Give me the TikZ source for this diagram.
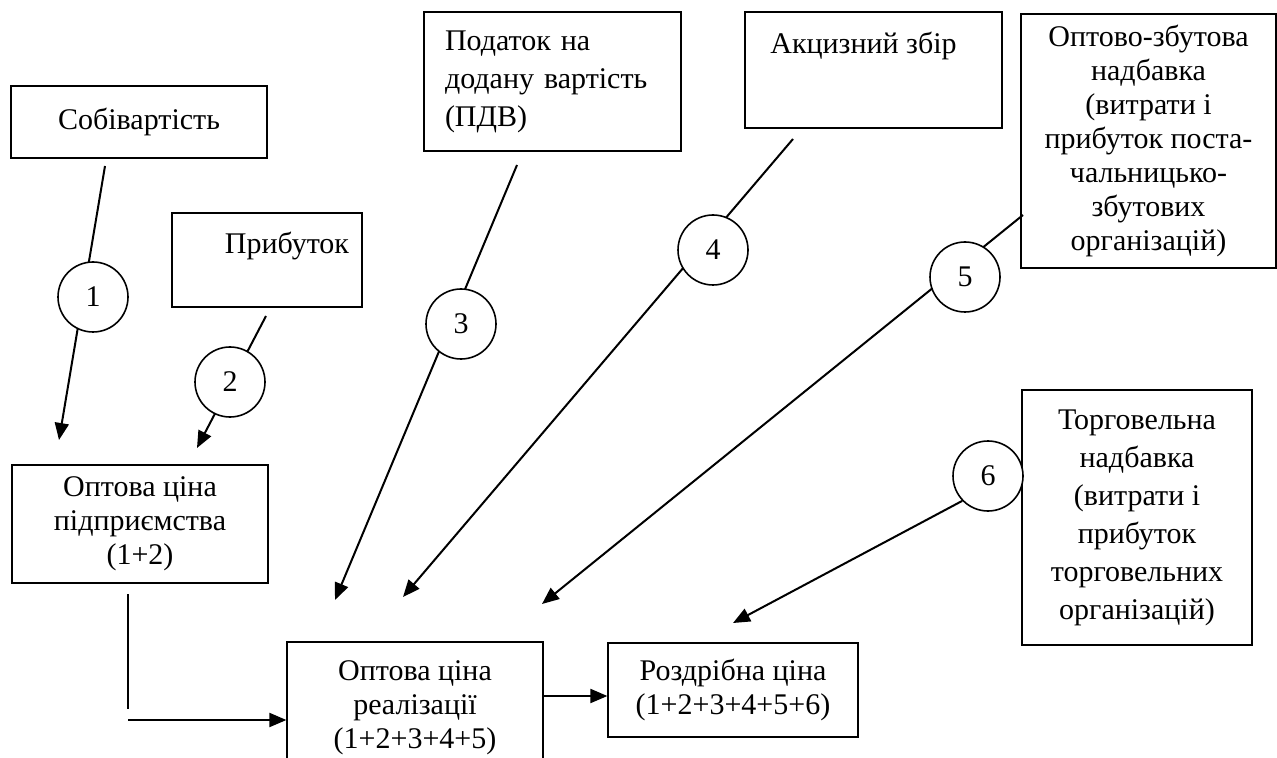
\documentclass[tikz,border=0pt]{standalone}
\usepackage{fontspec}
\setmainfont{Liberation Serif}
\usetikzlibrary{arrows.meta}

\begin{document}
\begin{tikzpicture}[x=0.5pt, y=-0.5pt, line width=1pt,
    box/.style={draw, rectangle, line width=0.6pt, align=center, inner sep=0pt, font=\fontsize{15}{17}\selectfont},
    num/.style={draw, circle, line width=0.8pt, fill=white, minimum size=35pt, inner sep=0pt, font=\fontsize{15}{17}\selectfont},
    >={Triangle[length=8.5pt, width=7pt]}]
    \useasboundingbox (0,0) rectangle (1277,758);

    \node[box, minimum width=128pt, minimum height=36pt] (cost) at (139,122) {Собівартість};
    \node[box, minimum width=95pt, minimum height=47pt] (profit) at (267,260) {\hspace*{20pt}Прибуток\\ \phantom{П}};
    \node[box, minimum width=128.5pt, minimum height=69.5pt, text width=107.5pt, inner xsep=10.5pt, align=left, font=\fontsize{15}{19}\selectfont] (vat) at (552.5,81.5) {Податок на\\ додану вартість\\ (ПДВ)};
    \node[box, minimum width=128.5pt, minimum height=58pt] (excise) at (873.5,70) {Акцизний збір\hspace*{10pt}\\[10pt] \phantom{А}};
    \node[box, minimum width=127.5pt, minimum height=127pt] (supply) at (1148.5,141) {Оптово-збутова\\ надбавка\\ (витрати і\\ прибуток поста-\\ чальницько-\\ збутових\\ організацій)};
    \node[box, minimum width=115pt, minimum height=127.5pt, font=\fontsize{15}{19}\selectfont] (trade) at (1137,517.5) {Торговельна\\ надбавка\\ (витрати і\\ прибуток\\ торговельних\\ організацій)};
    \node[box, minimum width=128pt, minimum height=59pt] (plant) at (140,524) {Оптова ціна\\ підприємства\\ (1+2)};
    \node[box, minimum width=128pt, minimum height=66pt] (sale) at (415,708) {Оптова ціна\\ реалізації\\ (1+2+3+4+5)};
    \node[box, minimum width=125pt, minimum height=47pt] (retail) at (733,690) {Роздрібна ціна\\ (1+2+3+4+5+6)};

    \coordinate (s1) at (105,166);
    \coordinate (t1) at (59,440);
    \coordinate (s2) at (266,316);
    \coordinate (t2) at (197,448);
    \coordinate (s3) at (517,165);
    \coordinate (t3) at (335,600);
    \coordinate (s4) at (793,139);
    \coordinate (t4) at (403,597);
    \coordinate (s5) at (1023,215);
    \coordinate (t5) at (542,604);
    \coordinate (t6) at (733,623);

    \draw[->] (s1) -- (t1);
    \draw[->] (s2) -- (t2);
    \draw[->] (s3) -- (t3);
    \draw[->] (s4) -- (t4);
    \draw[->] (s5) -- (t5);

    \node[num] (n1) at (93,297) {1};
    \node[num] (n2) at (230,382) {2};
    \node[num] (n3) at (461,324) {3};
    \node[num] (n4) at (713,250) {4};
    \node[num] (n5) at (965,277) {5};
    \node[num] (n6) at (988,476) {6};

    \draw[->] (n6.224) -- (t6);

    \coordinate (v1) at (128,594);
    \coordinate (v2) at (128,709);
    \coordinate (h1) at (128,720);
    \coordinate (m) at (0,696);
    \draw (v1) -- (v2);
    \draw[->] (h1) -- (h1 -| sale.west);
    \draw[->] (sale.east |- m) -- (retail.west |- m);
\end{tikzpicture}
\end{document}
